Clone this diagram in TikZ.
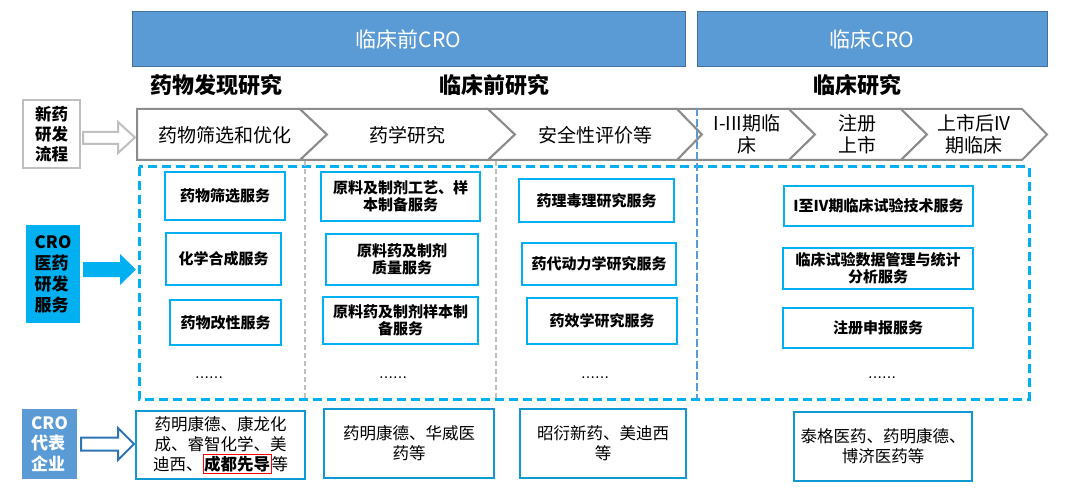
\documentclass[tikz,border=0pt]{standalone}
\usepackage{fontspec}
\setmainfont{Noto Sans CJK SC}
\newfontfamily\dotfont{DejaVu Sans}
\definecolor{topblue}{HTML}{5B9BD5}
\definecolor{topborder}{HTML}{41719C}
\definecolor{cyanb}{HTML}{00B0F0}
\definecolor{compb}{HTML}{0E9AD0}
\definecolor{chevgray}{HTML}{8C8C8C}
\definecolor{lgray}{HTML}{BFBFBF}
\definecolor{arrowblue}{HTML}{2E75B6}
\begin{document}
\begin{tikzpicture}[x=1pt,y=-1pt,
  topbox/.style={draw=topborder, line width=1pt, fill=topblue, text=white, font=\fontsize{21}{24}\selectfont, inner sep=0pt},
  head/.style={font=\fontsize{22}{25}\selectfont\bfseries, inner sep=0pt},
  chev/.style={draw=chevgray, line width=2pt, fill=white, line join=miter},
  chevtxt/.style={align=center, font=\fontsize{19}{22}\selectfont, inner sep=0pt},
  svc/.style={draw=cyanb, line width=2.5pt, fill=white, align=center, font=\fontsize{15}{17}\selectfont\bfseries, inner sep=0pt},
  comp/.style={draw=compb, line width=2.5pt, fill=white, align=center, font=\fontsize{16.5}{20}\selectfont, inner sep=0pt},
  dots/.style={font=\dotfont\fontsize{14}{16}\selectfont, inner sep=0pt, anchor=base},
  sidebox/.style={line width=2pt, inner sep=0pt, font=\fontsize{16.5}{20}\selectfont\bfseries}
]
\useasboundingbox (0,0) rectangle (1070,497);

% top phase boxes
\node[topbox, minimum width=553pt, minimum height=55pt] (pre) at (408.5,39.5) {临床前CRO};
\node[topbox, minimum width=350pt, minimum height=55pt] (cli) at (872,39.5) {临床CRO};

% headings
\node[head] (h1) at (216.5,85) {药物发现研究};
\node[head] (h2) at (494.5,85) {临床前研究};
\node[head] (h3) at (857,85) {临床研究};

% left label boxes
\node[sidebox, draw=lgray, fill=white, minimum width=57pt, minimum height=68pt, align=center] (xy) at (51.5,134) {新药\\研发\\流程};
\node[sidebox, fill=cyanb, minimum width=54pt, minimum height=98pt, align=left, font=\fontsize{17}{21}\selectfont\bfseries] (crof) at (53,274) {CRO\\医药\\研发\\服务};
\node[sidebox, fill=topblue, text=white, minimum width=55pt, minimum height=70pt, align=left, font=\fontsize{17}{20.5}\selectfont\bfseries] (croe) at (49.5,444) {CRO\\代表\\企业};

% block arrows
\draw[draw=lgray, line width=2pt, fill=white] (83,132) -- (118,132) -- (118,122) -- (135,137.5) -- (118,153) -- (118,144) -- (83,144) -- cycle;
\draw[draw=none, fill=cyanb] (83,262) -- (120,262) -- (120,254) -- (136,269.5) -- (120,285) -- (120,277) -- (83,277) -- cycle;
\draw[draw=arrowblue, line width=2pt, fill=white] (81,437.5) -- (118,437.5) -- (118,428) -- (134,444) -- (118,460) -- (118,450.5) -- (81,450.5) -- cycle;

% chevrons
\draw[chev] (137,109) -- (300,109) -- (327,134.5) -- (300,160) -- (137,160) -- cycle;
\draw[chev] (300,109) -- (488,109) -- (515,134.5) -- (488,160) -- (300,160) -- (327,134.5) -- cycle;
\draw[chev] (488,109) -- (677,109) -- (702,134.5) -- (677,160) -- (488,160) -- (515,134.5) -- cycle;
\draw[chev] (677,109) -- (789,109) -- (815,134.5) -- (789,160) -- (677,160) -- (702,134.5) -- cycle;
\draw[chev] (789,109) -- (901,109) -- (927,134.5) -- (901,160) -- (789,160) -- (815,134.5) -- cycle;
\draw[chev] (901,109) -- (1022,109) -- (1047,134.5) -- (1022,160) -- (901,160) -- (927,134.5) -- cycle;
\node[chevtxt] (p1) at (225,135) {药物筛选和优化};
\node[chevtxt] (p2) at (407,135) {药学研究};
\node[chevtxt] (p3) at (595,135) {安全性评价等};
\node[chevtxt] (p4) at (747,134) {I-III期临\\床};
\node[chevtxt] (p5) at (857,134) {注册\\上市};
\node[chevtxt] (p6) at (974,134) {上市后IV\\期临床};

% dashed frame and separators
\draw[cyanb, line width=3pt, dash pattern=on 9pt off 5pt] (139,167) rectangle (1029,399);
\draw[lgray, line width=1.5pt, dash pattern=on 5pt off 3pt] (305,161) -- (305,399);
\draw[lgray, line width=1.5pt, dash pattern=on 5pt off 3pt] (496,161) -- (496,399);
\draw[topblue, line width=2.5pt, dash pattern=on 8pt off 3pt] (697,108) -- (697,399);

% service boxes
\node[svc, minimum width=120pt, minimum height=48pt] (s11) at (225,196) {药物筛选服务};
\node[svc, minimum width=115pt, minimum height=52pt] (s12) at (223.5,259) {化学合成服务};
\node[svc, minimum width=111pt, minimum height=45pt] (s13) at (225.5,322.5) {药物改性服务};
\node[svc, minimum width=159pt, minimum height=49pt] (s21) at (400.5,196.5) {原料及制剂工艺、样\\本制备服务};
\node[svc, minimum width=152pt, minimum height=51pt] (s22) at (402,259.5) {原料药及制剂\\质量服务};
\node[svc, minimum width=155pt, minimum height=47pt] (s23) at (400.5,320.5) {原料药及制剂样本制\\备服务};
\node[svc, minimum width=155pt, minimum height=43pt] (s31) at (596.5,200.5) {药理毒理研究服务};
\node[svc, minimum width=154pt, minimum height=42pt] (s32) at (599,264) {药代动力学研究服务};
\node[svc, minimum width=150pt, minimum height=46pt] (s33) at (602,321) {药效学研究服务};
\node[svc, minimum width=189pt, minimum height=40pt] (s41) at (878.5,206) {I至IV期临床试验技术服务};
\node[svc, minimum width=190pt, minimum height=41pt] (s42) at (878,268.5) {临床试验数据管理与统计\\分析服务};
\node[svc, minimum width=190pt, minimum height=40pt] (s43) at (878,328) {注册申报服务};

\node[dots] (d1) at (209,378) {……};
\node[dots] (d2) at (393,378) {……};
\node[dots] (d3) at (595,378) {……};
\node[dots] (d4) at (882,378) {……};

% company boxes
\node[comp, minimum width=169pt, minimum height=68pt] (c1) at (220.5,445) {药明康德、康龙化\\成、睿智化学、美\\迪西、{\setlength{\fboxsep}{0.5pt}\setlength{\fboxrule}{1pt}\fcolorbox{red}{white}{\bfseries 成都先导}}等};
\node[comp, minimum width=170pt, minimum height=69pt] (c2) at (409,443.5) {药明康德、华威医\\药等};
\node[comp, minimum width=166pt, minimum height=69pt] (c3) at (603,443.5) {昭衍新药、美迪西\\等};
\node[comp, minimum width=178pt, minimum height=69pt] (c4) at (883,446.5) {泰格医药、药明康德、\\博济医药等};
\end{tikzpicture}
\end{document}
